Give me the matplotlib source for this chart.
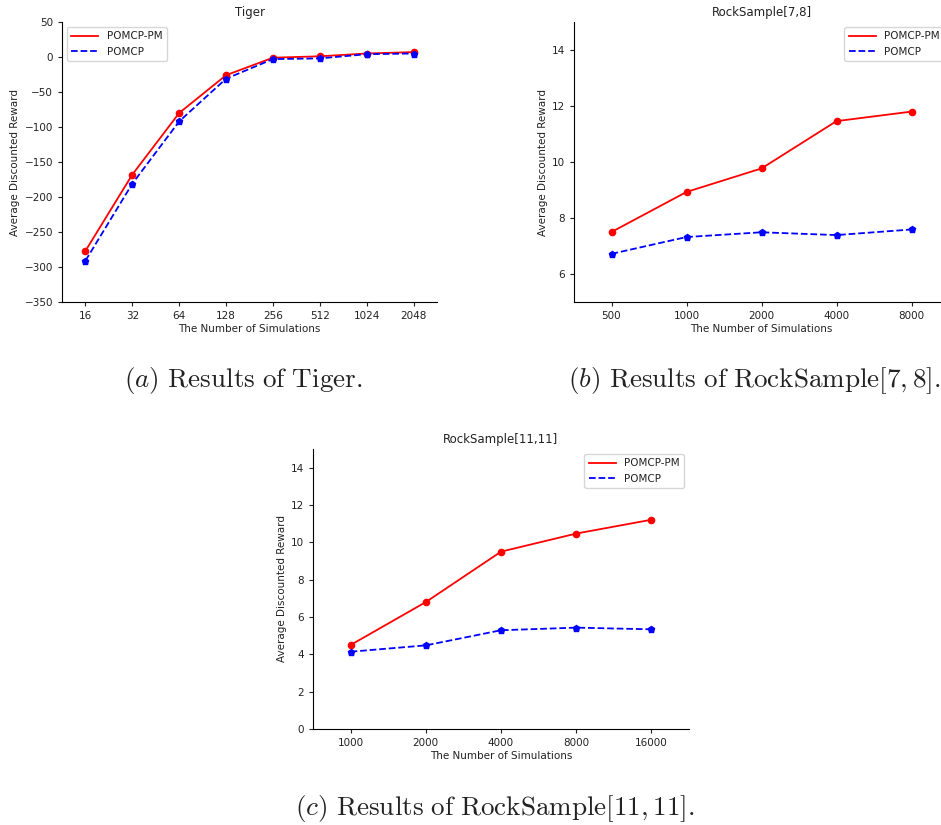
import matplotlib
matplotlib.use("Agg")
import matplotlib.pyplot as plt

# --- data ---
tiger_sims = ["16", "32", "64", "128", "256", "512", "1024", "2048"]
tiger_pm = [-277, -168, -80, -26, -1, 1, 5, 7]
tiger_pomcp = [-291, -181, -92, -31, -3, -2, 4, 5]

rs78_sims = ["500", "1000", "2000", "4000", "8000"]
rs78_pm = [7.5, 8.93, 9.77, 11.46, 11.8]
rs78_pomcp = [6.72, 7.32, 7.49, 7.39, 7.59]

rs1111_sims = ["1000", "2000", "4000", "8000", "16000"]
rs1111_pm = [4.5, 6.8, 9.5, 10.47, 11.21]
rs1111_pomcp = [4.14, 4.48, 5.29, 5.43, 5.34]

# --- styling ---
FS_TICK = 7.5
FS_LABEL = 7.5
FS_TITLE = 8.5
FS_CAPTION = 19.5
TEXT_COLOR = '#222222'

plt.rcParams['font.family'] = 'DejaVu Sans'
plt.rcParams['mathtext.fontset'] = 'cm'
plt.rcParams['text.color'] = TEXT_COLOR
plt.rcParams['axes.labelcolor'] = TEXT_COLOR
plt.rcParams['xtick.color'] = TEXT_COLOR
plt.rcParams['ytick.color'] = TEXT_COLOR

W, H = 941, 825
fig = plt.figure(figsize=(W / 100, H / 100), dpi=100)


def px_axes(x0, y0, x1, y1):
    # pixel box (top-left origin) -> figure fraction
    return fig.add_axes([x0 / W, 1 - y1 / H, (x1 - x0) / W, (y1 - y0) / H])


def draw_panel(ax, sims, pm, pomcp, title, ylim, yticks, legend_loc):
    xs = list(range(len(sims)))
    # lines carry the legend, markers drawn on top without labels
    ax.plot(xs, pm, color='red', linestyle='-', linewidth=1.3, label='POMCP-PM')
    ax.plot(xs, pomcp, color='blue', linestyle='--', linewidth=1.3, label='POMCP')
    ax.plot(xs, pm, color='red', linestyle='none', marker='o', markersize=4.5)
    ax.plot(xs, pomcp, color='blue', linestyle='none', marker='p', markersize=5)
    ax.set_xticks(xs)
    ax.set_xticklabels(sims, fontsize=FS_TICK)
    ax.set_xlim(-0.5, len(sims) - 0.5)
    ax.set_ylim(*ylim)
    ax.set_yticks(yticks)
    ax.tick_params(axis='y', labelsize=FS_TICK, length=3)
    ax.tick_params(axis='x', length=3)
    ax.set_title(title, fontsize=FS_TITLE, pad=4)
    ax.set_xlabel("The Number of Simulations", fontsize=FS_LABEL, labelpad=2)
    ax.set_ylabel("Average Discounted Reward", fontsize=FS_LABEL, labelpad=3)
    ax.spines['top'].set_visible(False)
    ax.spines['right'].set_visible(False)
    ax.legend(loc=legend_loc, fontsize=FS_LABEL, handlelength=2.6)


ax1 = px_axes(62, 22, 437, 302)
draw_panel(ax1, tiger_sims, tiger_pm, tiger_pomcp, "Tiger",
           (-350, 50), range(-350, 51, 50), 'upper left')

ax2 = px_axes(574, 22, 949, 302)
draw_panel(ax2, rs78_sims, rs78_pm, rs78_pomcp, "RockSample[7,8]",
           (5, 15), [6, 8, 10, 12, 14], 'upper right')

ax3 = px_axes(313, 449, 689, 729)
draw_panel(ax3, rs1111_sims, rs1111_pm, rs1111_pomcp, "RockSample[11,11]",
           (0, 15), [0, 2, 4, 6, 8, 10, 12, 14], 'upper right')

# captions
fig.text(243 / W, 1 - 380 / H, r'$(a)$ $\mathrm{Results\ of\ Tiger.}$',
         fontsize=FS_CAPTION, ha='center', va='center')
fig.text(568 / W, 1 - 380 / H, r'$(b)$ $\mathrm{Results\ of\ RockSample}[7,8].$',
         fontsize=FS_CAPTION, ha='left', va='center')
fig.text(495 / W, 1 - 808 / H, r'$(c)$ $\mathrm{Results\ of\ RockSample}[11,11].$',
         fontsize=FS_CAPTION, ha='center', va='center')

fig.savefig("out.png", dpi=100)
